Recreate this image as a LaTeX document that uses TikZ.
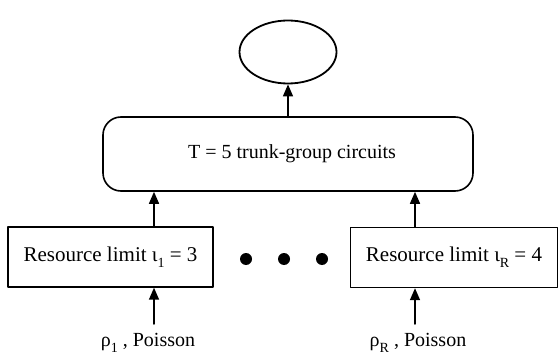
\documentclass[tikz,border=0pt]{standalone}
\usepackage{fontspec}
\setmainfont{Liberation Serif}
\usepackage{tikz}
\usetikzlibrary{shapes.geometric,arrows.meta}

\newcommand{\lowsub}[1]{\raisebox{-0.6ex}{\fontsize{14}{15}\selectfont #1}}

\begin{document}
\begin{tikzpicture}[x=1pt, y=-1pt, line cap=round, line join=round,
    font=\fontsize{21}{24}\selectfont,
    arr/.style={-{Triangle[length=12pt, width=10pt]}, line width=1.5pt},
    limbox/.style={draw, line width=1.4pt, minimum height=60pt, inner sep=0pt}]
    \useasboundingbox (0,0) rectangle (559,358);

    % --- sink and trunk group ---
    \node[ellipse, draw, line width=1.8pt, minimum width=97pt, minimum height=63pt,
          inner sep=0pt] (sink) at (288,52) {};
    \node[draw, rounded corners=18pt, line width=1.6pt, minimum width=370pt,
          minimum height=74pt] (trunk) at (288,154) {};
    \node[font=\fontsize{20}{24}\selectfont] (trunktxt) at (292,154) {T = 5 trunk-group circuits};

    % --- resource limit boxes ---
    \node[limbox, minimum width=205pt] (lim1) at (110.5,257) {Resource limit ι\lowsub{1} = 3};
    \node[limbox, minimum width=207pt] (limR) at (454,257.5) {Resource limit ι\lowsub{R} = 4};

    % dots
    \foreach \x [count=\i] in {246,284,322}{
      \node[circle, fill, inner sep=0pt, minimum size=12pt] (d\i) at (\x,259) {};
    }

    % inputs
    \coordinate (in1) at (154,324);
    \coordinate (inR) at (415,324);
    \node[font=\fontsize{20}{22}\selectfont] (src1) at (148,343) {ρ\lowsub{1} , Poisson};
    \node[font=\fontsize{20}{22}\selectfont] (srcR) at (418,343) {ρ\lowsub{R} , Poisson};

    % arrows
    \draw[arr] (in1) -- (lim1.south -| in1);
    \draw[arr] (inR) -- (limR.south -| inR);
    \draw[arr] (lim1.north -| in1) -- (trunk.south -| in1);
    \draw[arr] (limR.north -| inR) -- (trunk.south -| inR);
    \draw[arr] (trunk.north) -- (sink.south);
  \end{tikzpicture}
\end{document}
